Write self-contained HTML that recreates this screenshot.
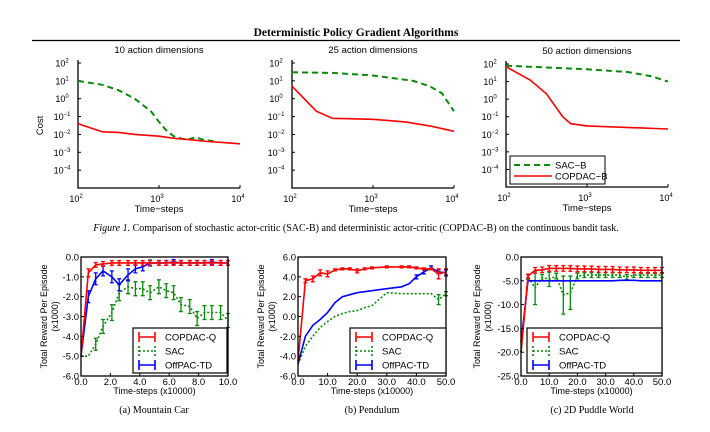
<!DOCTYPE html>
<html><head><meta charset="utf-8"><style>
body{margin:0;background:#fff;width:710px;height:427px;overflow:hidden}
svg{font-family:"Liberation Sans",sans-serif}
.serif{font-family:"Liberation Serif",serif}
</style></head><body>
<svg id="s" width="710" height="427">
<text class="serif" x="356" y="36" font-size="11.5" font-weight="bold" text-anchor="middle">Deterministic Policy Gradient Algorithms</text>
<line x1="32" y1="40.5" x2="680" y2="40.5" stroke="#000" stroke-width="1.2"/>
<text class="serif" x="356" y="231" font-size="10" text-anchor="middle"><tspan font-style="italic">Figure 1.</tspan> Comparison of stochastic actor-critic (SAC-B) and deterministic actor-critic (COPDAC-B) on the continuous bandit task.</text>
<text class="serif" x="154" y="413" font-size="10" text-anchor="middle">(a)  Mountain Car</text>
<text class="serif" x="372" y="413" font-size="10" text-anchor="middle">(b)  Pendulum</text>
<text class="serif" x="592" y="413" font-size="10" text-anchor="middle">(c)  2D Puddle World</text>
</svg>
<script>
// ---- top bandit charts (x = log10 time-steps, y = cost) ----
const b1SacX=[2,2.3,2.5,2.7,2.9,3.0,3.1,3.2,3.35,3.45,3.55,3.7];
const b1SacY=[10,6,3,1,0.2,0.05,0.015,0.007,0.005,0.007,0.005,0.004];
const b1CopX=[2,2.3,2.5,2.7,3.0,3.2,3.4,3.6,3.8,4.0];
const b1CopY=[0.04,0.014,0.013,0.01,0.008,0.006,0.005,0.004,0.0035,0.003];
const b2SacX=[2,2.5,3.0,3.5,3.7,3.85,4.0];
const b2SacY=[30,28,20,10,5,2,0.2];
const b2CopX=[2,2.3,2.5,3.0,3.4,3.7,4.0];
const b2CopY=[5,0.2,0.08,0.07,0.05,0.03,0.015];
const b3SacX=[2,3.0,3.5,3.8,4.0];
const b3SacY=[80,50,35,20,10];
const b3CopX=[2,2.3,2.5,2.7,2.8,3.0,4.0];
const b3CopY=[70,12,2,0.1,0.04,0.03,0.02];
const logTicks=['2','1','0','\u22121','\u22122','\u22123','\u22124'];
// ---- bottom charts ----
const mcX=[0,0.5,1,1.5,2.1,2.6,3.2,3.7,4.2,4.7,5.3,5.8,6.3,6.8,7.4,7.9,8.4,8.9,9.5,10];
const mcCop=[-5,-0.8,-0.4,-0.35,-0.3,-0.3,-0.3,-0.3,-0.3,-0.3,-0.3,-0.3,-0.3,-0.3,-0.3,-0.3,-0.3,-0.3,-0.3,-0.3];
const mcSac=[-5,-5,-4.4,-3.5,-2.8,-1.8,-1.5,-1.6,-1.6,-1.8,-1.5,-1.7,-1.8,-2.4,-2.5,-3.1,-2.8,-2.8,-2.8,-3.2];
const mcOff=[-5,-2,-1.1,-0.7,-1.0,-1.4,-0.9,-0.6,-0.5,-0.3,-0.3,-0.3,-0.25,-0.3,-0.3,-0.3,-0.3,-0.25,-0.3,-0.3];
const mcCopErr=[0,0.2,0.12,0.12,0.12,0.12,0.12,0.12,0.12,0.12,0.12,0.12,0.12,0.12,0.12,0.12,0.12,0.12,0.12,0.12];
const mcSacErr=[0,0,0.3,0.35,0.4,0.4,0.35,0.35,0.35,0.35,0.35,0.35,0.35,0.35,0.35,0.35,0.35,0.35,0.35,0.35];
const mcOffErr=[0,0.3,0.3,0.25,0.3,0.3,0.3,0.2,0.2,0.15,0.12,0.12,0.12,0.12,0.12,0.12,0.12,0.12,0.12,0.12];
const pdX=[0,2.5,5,7.5,10,12.5,15,17.5,20,22.5,25,30,35,37.5,40,42.5,45,47.5,50];
const pdCop=[-4.5,3.6,3.8,4.4,4.3,4.7,4.8,4.8,4.6,4.8,4.9,5.0,5.0,5.0,4.9,4.8,4.8,4.3,4.5];
const pdSac=[-4.8,-3,-2,-1.1,-0.5,0,0.3,0.5,0.6,0.9,1.1,2.4,2.3,2.3,2.3,2.3,2.3,1.7,2.3];
const pdOff=[-4.8,-2,-0.9,-0.3,0.4,1.4,2.0,2.2,2.4,2.5,2.6,2.8,3.0,3.3,4.0,4.5,4.9,4.5,4.4];
const pdCopErr=[0,0.2,0.3,0.3,0.3,0.1,0.1,0.1,0.2,0.1,0.1,0.1,0.1,0.1,0.1,0.1,0.1,0.5,0.3];
const pdSacErr=[0,0,0,0,0,0,0,0,0,0,0,0,0,0,0,0,0,0.5,0.2];
const pdOffErr=[0,0,0,0,0,0,0,0,0,0,0,0,0,0,0.2,0.2,0.2,0.2,0.3];
const pwX=[0,2.5,5,7.5,10,12.5,15,17.5,20,22.5,25,27.5,30,32.5,35,37.5,40,42.5,45,47.5,50];
const pwCop=[-20,-4,-2.8,-2.7,-2.4,-2.4,-2.4,-2.4,-2.5,-2.5,-2.5,-2.6,-2.6,-2.6,-2.7,-2.7,-2.7,-2.8,-2.8,-2.8,-2.8];
const pwSac=[-20,-4.2,-6.5,-4.3,-4.7,-4,-8,-7.5,-4,-3.8,-3.8,-3.8,-3.8,-3.8,-3.8,-4.2,-3.8,-3.8,-3.8,-3.8,-3.8];
const pwOff=[-18,-5,-5,-5,-5,-5,-5,-5,-5,-5,-5,-5,-5,-5,-4.9,-4.9,-4.9,-5,-5,-5,-5];
const pwCopErr=[0,0.4,0.6,0.6,0.6,0.6,0.6,0.6,0.6,0.6,0.6,0.6,0.6,0.6,0.6,0.6,0.6,0.6,0.6,0.6,0.6];
const pwSacErr=[0,0.5,3.5,0.6,1.5,0.6,4,3.5,0.6,0.5,0.5,0.5,0.5,0.5,0.5,0.5,0.5,0.5,0.5,0.5,0.5];
const pwOffErr=[0,0,0,0,0,0,0,0,0,0,0,0,0,0,0,0,0,0,0,0,0];

const S=document.getElementById('s');const NS='http://www.w3.org/2000/svg';
function mk(t,a,txt){const e=document.createElementNS(NS,t);for(const k in a)e.setAttribute(k,a[k]);if(txt!==undefined)e.textContent=txt;S.appendChild(e);return e;}
function path(pts){return pts.map((p,i)=>(i?'L':'M')+p[0].toFixed(1)+' '+p[1].toFixed(1)).join('');}

function bandit(L,R,T,B,title,sx,sy,cx,cy,showY,legend,nm){
  const xs=v=>L+(v-2)/2*(R-L), ys=v=>T+(2-Math.log10(v))/7*(B-T);
  let e=mk('text',{x:(L+R)/2,y:T-10,'font-size':9.5,'text-anchor':'middle'},title);
  
  
  e=mk('path',{d:`M${L} ${T-3}V${B}H${R}`,fill:'none',stroke:'#000','stroke-width':1.3});
  
  
  logTicks.forEach((t,i)=>{const y=T+i*(B-T)/7;
    e=mk('line',{x1:L,x2:L+3,y1:y,y2:y,stroke:'#000'});
    
    
    e=mk('text',{x:L-16,y:y+3.5,'font-size':9,'text-anchor':'middle'});
    e.innerHTML='10<tspan dy="-4" font-size="6">'+t+'</tspan>';
    
    });
  ['2','3','4'].forEach((t,i)=>{const x=L+i*(R-L)/2;
    e=mk('line',{x1:x,x2:x,y1:B,y2:B-3,stroke:'#000'});
    
    
    e=mk('text',{x:x-2,y:B+14,'font-size':9,'text-anchor':'middle'});
    e.innerHTML='10<tspan dy="-4" font-size="6">'+t+'</tspan>';
    
    });
  e=mk('text',{x:(L+R)/2,y:B+24,'font-size':9.5,'text-anchor':'middle'},'Time\u2212steps');
  
  
  if(showY){e=mk('text',{x:0,y:0,'font-size':9.5,'text-anchor':'middle',transform:`translate(${L-35},${(T+B)/2}) rotate(-90)`},'Cost');
    
    }
  e=mk('path',{d:path(sx.map((v,i)=>[xs(v),ys(sy[i])])),fill:'none',stroke:'#0a8a0a','stroke-width':2,'stroke-dasharray':'6,4'});
  
  
  e=mk('path',{d:path(cx.map((v,i)=>[xs(v),ys(cy[i])])),fill:'none',stroke:'#f00','stroke-width':1.6});
  
  
  if(legend){
    e=mk('rect',{x:510,y:156,width:95,height:28,fill:'#fff',stroke:'#000','stroke-width':1});
    
    
    e=mk('line',{x1:514,x2:552,y1:165,y2:165,stroke:'#0a8a0a','stroke-width':2,'stroke-dasharray':'6,4'});
    
    
    e=mk('text',{x:555,y:168.5,'font-size':9.5},'SAC\u2212B');
    
    
    e=mk('line',{x1:514,x2:552,y1:176,y2:176,stroke:'#f00','stroke-width':1.6});
    
    
    e=mk('text',{x:555,y:179.5,'font-size':9.5},'COPDAC\u2212B');
    
    
  }
}
bandit(78,240,63,188,'10 action dimensions',b1SacX,b1SacY,b1CopX,b1CopY,true,false,'bandit-10');
bandit(292,454,63,188,'25 action dimensions',b2SacX,b2SacY,b2CopX,b2CopY,false,false,'bandit-25');
bandit(506,668,64,187,'50 action dimensions',b3SacX,b3SacY,b3CopX,b3CopY,false,true,'bandit-50');

function reward(L,R,T,B,xmax,ymin,ymax,ystep,xstep,X,cop,sac,off,errs,leg,yoff,nm){
  const xs=v=>L+v/xmax*(R-L), ys=v=>T+(ymax-v)/(ymax-ymin)*(B-T);
  let e;
  const ser=[[sac,'#0a8a0a','2,2','sac',errs[1]],[off,'#00f','','offpac-td',errs[2]],[cop,'#f00','','copdac-q',errs[0]]];
  ser.forEach(([d,c,da,n,er])=>{
    e=mk('path',{d:path(X.map((v,i)=>[xs(v),ys(d[i])])),fill:'none',stroke:c,'stroke-width':1.6,'stroke-dasharray':da});
    
    
    X.forEach((v,i)=>{if(!er[i])return;const x=xs(v),y=ys(d[i]);const h=er[i]/(ymax-ymin)*(B-T);
      e=mk('path',{d:`M${x} ${y-h}V${y+h}M${x-2} ${y-h}H${x+2}M${x-2} ${y+h}H${x+2}`,stroke:c,'stroke-width':1.3,fill:'none'});
      
      });
  });
  e=mk('rect',{x:L,y:T,width:R-L,height:B-T,fill:'none',stroke:'#000','stroke-width':1.3});
  
  
  for(let v=ymax;v>=ymin-1e-9;v-=ystep){const y=ys(v);
    e=mk('line',{x1:L,x2:L+3,y1:y,y2:y,stroke:'#000'});
    
    
    e=mk('text',{x:L-2,y:y+3.5,'font-size':9.5,'text-anchor':'end'},v.toFixed(1));
    
    }
  for(let v=0;v<=xmax+1e-9;v+=xstep){const x=xs(v);
    e=mk('line',{x1:x,x2:x,y1:B,y2:B-3,stroke:'#000'});
    
    
    e=mk('text',{x:x,y:B+9,'font-size':9.5,'text-anchor':'middle'},v.toFixed(1));
    
    }
  e=mk('text',{x:(L+R)/2,y:B+18,'font-size':9,'text-anchor':'middle'},'Time-steps (x10000)');
  
  
  e=mk('text',{x:0,y:0,'font-size':9,'text-anchor':'middle',transform:`translate(${L-yoff},${(T+B)/2}) rotate(-90)`},'Total Reward Per Episode');
  
  
  e=mk('text',{x:0,y:0,'font-size':9,'text-anchor':'middle',transform:`translate(${L-yoff+11},${(T+B)/2}) rotate(-90)`},'(x1000)');
  
  
  const lx=leg[0],ly=leg[1],lw=leg[2];
  e=mk('rect',{x:lx,y:ly,width:lw,height:45,fill:'#fff',stroke:'#000','stroke-width':1.2});
  
  
  [['COPDAC-Q','#f00',''],['SAC','#0a8a0a','2,2'],['OffPAC-TD','#00f','']].forEach(([t,c,da],i)=>{const y=ly+9+i*14;
    e=mk('path',{d:`M${lx+6} ${y}H${lx+22}M${lx+6} ${y-5}V${y+5}M${lx+22} ${y-5}V${y+5}`,stroke:c,'stroke-width':1.6,'stroke-dasharray':da,fill:'none'});
    
    
    e=mk('text',{x:lx+32,y:y+3.5,'font-size':9.5},t);
    
    });
}
reward(81,228,257,376,10,-6,0,1,2,mcX,mcCop,mcSac,mcOff,[mcCopErr,mcSacErr,mcOffErr],[133,328,94],34,'mountain-car');
reward(298,446,257,376,50,-6,6,2,10,pdX,pdCop,pdSac,pdOff,[pdCopErr,pdSacErr,pdOffErr],[350,328,96],34,'pendulum');
reward(521,662,257,376,50,-25,0,5,10,pwX,pwCop,pwSac,pwOff,[pwCopErr,pwSacErr,pwOffErr],[527,328,135],41,'puddle-world');
</script>
</body></html>
